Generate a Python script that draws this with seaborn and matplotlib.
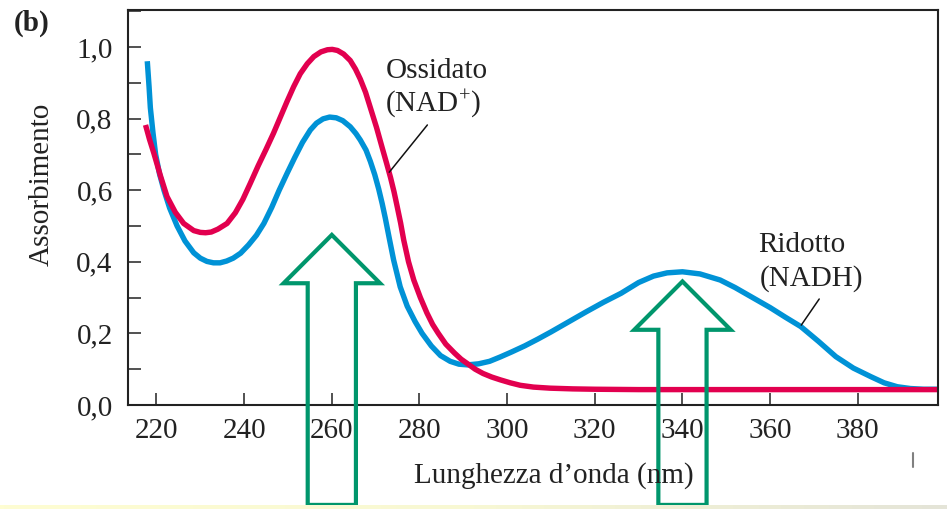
import numpy as np
import pandas as pd
import matplotlib
matplotlib.use("Agg")
import matplotlib.pyplot as plt
import seaborn as sns
from matplotlib.patches import Polygon
from matplotlib.ticker import MultipleLocator, FuncFormatter
from matplotlib.lines import Line2D
from matplotlib.colors import LinearSegmentedColormap

# ---------------- data ----------------
nadh_wl = [217.9, 218.3, 218.6, 219.2, 219.8, 220.7, 221.7, 223.0, 224.7, 226.5,
           228.5, 230.0, 231.5, 233.0, 234.5, 236.0, 237.5, 239.2, 241.0, 242.8,
           244.5, 246.3, 248.0, 249.8, 251.5, 253.3, 255.1, 256.5, 258.0, 259.5,
           261.0, 262.5, 264.2, 265.5, 266.5, 267.8, 268.8, 269.8, 270.7, 271.5,
           272.2, 273.1, 274.1, 275.6, 277.2, 279.0, 280.6, 282.7, 284.8, 287.0,
           289.0, 291.0, 293.5, 296.0, 298.4, 301.0, 304.0, 307.0, 310.0, 314.0,
           318.0, 322.0, 326.0, 330.0, 333.4, 336.5, 340.0, 344.0, 348.6, 352.0,
           356.0, 360.0, 363.5, 367.0, 371.0, 375.0, 379.0, 383.0, 386.0, 389.0,
           392.0, 395.0, 398.5]
nadh_abs = [0.960, 0.890, 0.830, 0.760, 0.700, 0.645, 0.600, 0.550, 0.500, 0.458,
            0.425, 0.410, 0.401, 0.397, 0.397, 0.402, 0.410, 0.424, 0.447, 0.474,
            0.507, 0.552, 0.600, 0.647, 0.690, 0.733, 0.768, 0.787, 0.799, 0.804,
            0.802, 0.794, 0.777, 0.758, 0.740, 0.712, 0.680, 0.643, 0.603, 0.562,
            0.522, 0.466, 0.405, 0.330, 0.276, 0.233, 0.200, 0.165, 0.138, 0.122,
            0.114, 0.112, 0.115, 0.122, 0.134, 0.148, 0.165, 0.184, 0.204, 0.232,
            0.260, 0.287, 0.312, 0.342, 0.360, 0.369, 0.372, 0.366, 0.349, 0.328,
            0.300, 0.272, 0.245, 0.219, 0.178, 0.135, 0.103, 0.079, 0.062, 0.051,
            0.046, 0.044, 0.044]

nad_wl = [217.5, 218.4, 219.4, 220.9, 222.4, 224.3, 226.2, 228.5, 230.0, 231.2,
          232.5, 234.0, 236.1, 238.0, 239.7, 241.4, 243.2, 245.0, 246.7, 248.3,
          249.8, 251.3, 252.8, 254.4, 255.9, 257.5, 259.0, 260.1, 261.3, 262.7,
          264.2, 265.4, 266.5, 267.7, 268.8, 270.2, 271.5, 272.5, 273.4, 274.2,
          274.9, 275.7, 276.4, 277.5, 278.7, 280.2, 281.7, 283.0, 284.3, 286.0,
          288.0, 289.5, 291.0, 292.7, 294.5, 296.5, 298.5, 300.7, 303.0, 306.0,
          309.8, 315.0, 320.0, 330.0, 340.0, 360.0, 380.0, 398.5]
nad_abs = [0.782, 0.742, 0.703, 0.640, 0.582, 0.538, 0.507, 0.487, 0.482, 0.481,
           0.483, 0.491, 0.507, 0.537, 0.574, 0.619, 0.668, 0.714, 0.759, 0.805,
           0.848, 0.889, 0.925, 0.953, 0.973, 0.986, 0.992, 0.993, 0.990, 0.980,
           0.962, 0.938, 0.910, 0.873, 0.830, 0.775, 0.718, 0.675, 0.635, 0.595,
           0.555, 0.508, 0.461, 0.400, 0.349, 0.300, 0.257, 0.225, 0.200, 0.170,
           0.145, 0.128, 0.115, 0.100, 0.088, 0.078, 0.070, 0.062, 0.055, 0.050,
           0.047, 0.045, 0.044, 0.043, 0.043, 0.043, 0.043, 0.043]

x_ticks = [220, 240, 260, 280, 300, 320, 340, 360, 380]
y_ticks = [0.0, 0.2, 0.4, 0.6, 0.8, 1.0]

arrow_wl = [260, 340]          # absorption peaks marked by arrows
arrow_tip = [0.475, 0.345]
arrow_base = [0.340, 0.210]

# ---------------- style ----------------
RED = "#e2004f"
BLUE = "#0092d6"
GREEN = "#00966c"
INK = "#222222"

sns.set_style("ticks")
plt.rcParams["font.family"] = ["Liberation Serif", "DejaVu Serif"]
plt.rcParams["mathtext.fontset"] = "custom"
plt.rcParams["mathtext.rm"] = "Liberation Serif"
plt.rcParams["mathtext.it"] = "Liberation Serif"

W, H = 947, 509
fig = plt.figure(figsize=(W / 100, H / 100), dpi=100)
fig.patch.set_facecolor("white")
ax = fig.add_axes([128 / W, 1 - 405 / H, (938 - 128) / W, (405 - 10) / H])

df = pd.concat([
    pd.DataFrame({"wl": nadh_wl, "abs": nadh_abs, "form": "NADH"}),
    pd.DataFrame({"wl": nad_wl, "abs": nad_abs, "form": "NAD+"}),
], ignore_index=True)

sns.lineplot(data=df, x="wl", y="abs", hue="form", hue_order=["NADH", "NAD+"],
             palette={"NADH": BLUE, "NAD+": RED}, linewidth=3.9, legend=False,
             estimator=None, sort=True, ax=ax)
for ln in ax.get_lines():
    ln.set_solid_capstyle("butt")
    ln.set_solid_joinstyle("round")

ax.set_xlim(213.5, 398.3)
ax.set_ylim(0, 1.103)
ax.set_xticks(x_ticks)
ax.set_yticks(y_ticks)
ax.yaxis.set_minor_locator(MultipleLocator(0.1))
ax.yaxis.set_major_formatter(FuncFormatter(lambda v, p: f"{v:.1f}".replace(".", ",")))
ax.tick_params(axis="both", which="both", direction="in", length=9, width=1.2,
               color="#333333", labelsize=21, labelcolor=INK)
ax.tick_params(axis="y", which="both", pad=11)
ax.tick_params(axis="x", which="both", pad=9)
for s in ax.spines.values():
    s.set_visible(True)
    s.set_linewidth(1.5)
    s.set_color(INK)
ax.set_xlabel("")
ax.set_ylabel("")

# leader lines and labels
ax.plot([281.8, 273.1], [0.782, 0.650], color="#111111", lw=1.1)
ax.plot([371.2, 367.1], [0.296, 0.223], color="#111111", lw=1.1)
ax.text(272.2, 0.913, "Ossidato", fontsize=21, color=INK, ha="left", va="baseline")
ax.text(272.2, 0.821, "(NAD$^{+}$)", fontsize=21, color=INK, ha="left", va="baseline")
ax.text(357.3, 0.427, "Ridotto", fontsize=21, color=INK, ha="left", va="baseline")
ax.text(357.7, 0.333, "(NADH)", fontsize=21, color=INK, ha="left", va="baseline")

# hollow green arrows
shaft_hw, head_hw, bottom = 5.5, 11.0, -0.279
for xc, tip, base in zip(arrow_wl, arrow_tip, arrow_base):
    verts = [(xc - shaft_hw, bottom), (xc - shaft_hw, base), (xc - head_hw, base),
             (xc, tip), (xc + head_hw, base), (xc + shaft_hw, base),
             (xc + shaft_hw, bottom)]
    ax.add_patch(Polygon(verts, closed=True, fill=False, edgecolor=GREEN,
                         linewidth=3.0, joinstyle="miter", clip_on=False, zorder=5))

# figure texts
fig.text(32 / W, 1 - 23 / H, "(b)", fontsize=21, fontweight="bold", color=INK,
         ha="center", va="center")
fig.text(554 / W, 1 - 476 / H, "Lunghezza d’onda (nm)", fontsize=21, color=INK,
         ha="center", va="center")
fig.text(42 / W, 1 - 184 / H, "Assorbimento", fontsize=21, color=INK,
         ha="center", va="center", rotation=90)

# small stray mark and bottom strip
fig.add_artist(Line2D([912.5 / W, 912.5 / W], [1 - 453 / H, 1 - 467 / H],
                      color="#808080", lw=1.5))
sax = fig.add_axes([0, 0, 1, 4.5 / H])
grad = np.linspace(0, 1, 256)[None, :]
cm = LinearSegmentedColormap.from_list("strip", ["#fefdd2", "#f8f8d4", "#e4e4d8"])
sax.imshow(grad, aspect="auto", cmap=cm, extent=[0, 1, 0, 1])
sax.set_axis_off()

fig.savefig("out.png", dpi=100)
